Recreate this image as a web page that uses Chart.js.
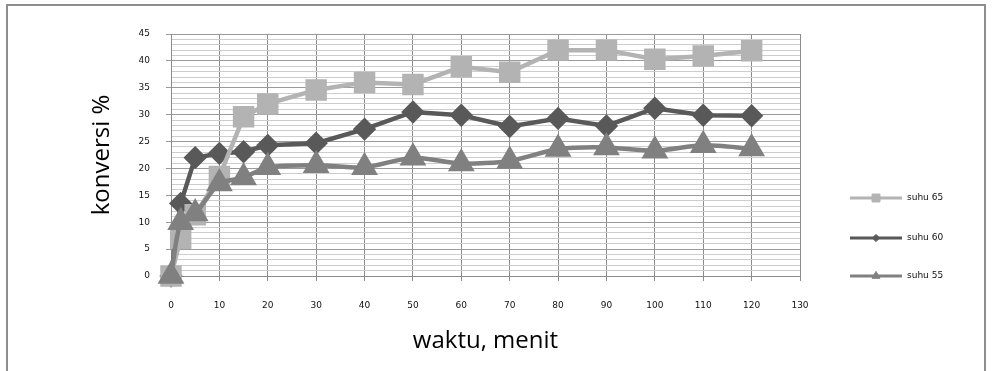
<!DOCTYPE html>
<html>
<head>
<meta charset="utf-8">
<script src="https://cdn.jsdelivr.net/npm/chart.js@4.4.0/dist/chart.umd.min.js"></script>
<style>
  html, body { margin: 0; padding: 0; background: #fff; }
  #wrap { position: relative; width: 992px; height: 371px; overflow: hidden; }
  #frame { position: absolute; left: 6px; top: 4px; width: 980px; height: 400px; border: 2px solid #8e8e8e; box-sizing: border-box; }
  canvas { position: absolute; left: 0; top: 0; }
</style>
</head>
<body>
<div id="wrap">
  <div id="frame"></div>
  <canvas id="chart" width="992" height="371"></canvas>
</div>
<script>
// time in minutes
const waktu = [0, 2, 5, 10, 15, 20, 30, 40, 50, 60, 70, 80, 90, 100, 110, 120];

// conversion % per temperature
const suhu65 = [0, 7.0, 11.4, 18.5, 29.6, 32.0, 34.6, 36.0, 35.6, 38.9, 37.9, 42.0, 42.0, 40.3, 40.9, 41.9];
const suhu60 = [0, 13.5, 22.0, 22.8, 23.1, 24.3, 24.7, 27.3, 30.5, 29.9, 27.8, 29.3, 27.9, 31.2, 29.9, 29.8];
const suhu55 = [0, 10.0, 11.6, 17.2, 18.3, 20.2, 20.6, 20.2, 22.0, 20.9, 21.4, 23.6, 23.9, 23.3, 24.3, 23.7];

const xTicks = [0, 10, 20, 30, 40, 50, 60, 70, 80, 90, 100, 110, 120, 130];
const yTicks = [0, 5, 10, 15, 20, 25, 30, 35, 40, 45];

const pts = arr => arr.map((v, i) => ({ x: waktu[i], y: v }));

// legend: line + marker like the spreadsheet one
const sideLegend = {
  id: 'sideLegend',
  afterDraw(chart) {
    const ctx = chart.ctx;
    const rows = [
      { ds: 0, y: 198, r: 5.6 },
      { ds: 1, y: 238, r: 3.6 },
      { ds: 2, y: 276, r: 4.6 }
    ];
    ctx.save();
    rows.forEach(row => {
      const d = chart.data.datasets[row.ds];
      ctx.strokeStyle = d.borderColor;
      ctx.lineWidth = 3;
      ctx.beginPath();
      ctx.moveTo(850, row.y);
      ctx.lineTo(902, row.y);
      ctx.stroke();
      ctx.fillStyle = d.pointBackgroundColor;
      ctx.strokeStyle = d.pointBorderColor;
      ctx.lineWidth = 1;
      Chart.helpers.drawPoint(ctx, { pointStyle: d.pointStyle, radius: row.r, rotation: 0, borderWidth: 1 }, 876, row.y);
      ctx.fillStyle = '#111';
      ctx.font = '9px "DejaVu Sans"';
      ctx.textBaseline = 'middle';
      ctx.textAlign = 'left';
      ctx.fillText(d.label, 907, row.y);
    });
    ctx.restore();
  }
};

new Chart(document.getElementById('chart'), {
  type: 'line',
  data: {
    datasets: [
      {
        label: 'suhu 65',
        data: pts(suhu65),
        borderColor: '#b3b3b3',
        backgroundColor: '#b3b3b3',
        pointBackgroundColor: '#b3b3b3',
        pointBorderColor: '#b3b3b3',
        pointStyle: 'rect',
        pointRadius: 12,
        borderWidth: 4.5,
        tension: 0,
        order: 2,
        clip: false
      },
      {
        label: 'suhu 60',
        data: pts(suhu60),
        borderColor: '#595959',
        backgroundColor: '#595959',
        pointBackgroundColor: '#595959',
        pointBorderColor: '#595959',
        pointStyle: 'rectRot',
        pointRadius: 8.5,
        borderWidth: 4.5,
        tension: 0,
        order: 3,
        clip: false
      },
      {
        label: 'suhu 55',
        data: pts(suhu55),
        borderColor: '#808080',
        backgroundColor: '#808080',
        pointBackgroundColor: '#808080',
        pointBorderColor: '#808080',
        pointStyle: 'triangle',
        pointRadius: 11,
        borderWidth: 4.5,
        tension: 0.25,
        order: 1,
        clip: false
      }
    ]
  },
  options: {
    responsive: false,
    animation: false,
    layout: { padding: { left: 0, right: 192, top: 34, bottom: 0 } },
    plugins: {
      legend: { display: false },
      tooltip: { enabled: false }
    },
    scales: {
      x: {
        type: 'linear',
        min: 0,
        max: 130,
        afterFit: s => { s.height = 95; },
        afterBuildTicks: s => { s.ticks = xTicks.map(v => ({ value: v })); },
        ticks: {
          padding: 19,
          autoSkip: false,
          maxRotation: 0,
          color: '#111',
          font: { family: 'DejaVu Sans', size: 9 }
        },
        grid: { color: '#8c8c8c', tickColor: '#8c8c8c', tickLength: 5, lineWidth: 1 },
        border: { color: '#8c8c8c' },
        title: {
          display: true,
          text: 'waktu, menit',
          color: '#000',
          font: { family: 'Open Sans', size: 24 },
          padding: { top: 0, bottom: 15 }
        }
      },
      y: {
        min: 0,
        max: 45,
        afterFit: s => { s.width = 171; },
        ticks: {
          stepSize: 1,
          autoSkip: false,
          padding: 16,
          color: '#111',
          font: { family: 'DejaVu Sans', size: 9 },
          callback: v => yTicks.includes(v) ? v : ''
        },
        grid: {
          color: c => c.tick && yTicks.includes(c.tick.value) ? '#9a9a9a' : '#cdcdcd',
          tickColor: c => c.tick && yTicks.includes(c.tick.value) ? '#9a9a9a' : 'rgba(0,0,0,0)',
          tickLength: 5,
          lineWidth: 1
        },
        border: { color: '#8c8c8c' },
        title: {
          display: true,
          text: 'konversi %',
          color: '#000',
          font: { family: 'Open Sans', size: 24 },
          padding: { top: 88, bottom: 0 }
        }
      }
    }
  },
  plugins: [sideLegend]
});
</script>
</body>
</html>
